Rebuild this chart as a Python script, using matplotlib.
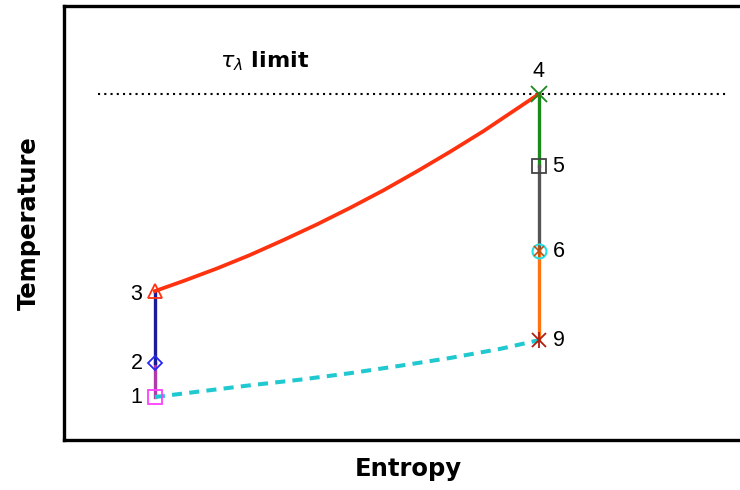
import matplotlib.pyplot as plt

# state points on the T-s diagram (arbitrary units)
s_low = 0.132
s_high = 0.690
T_state = {"1": 0.099, "2": 0.177, "3": 0.343, "4": 0.797,
           "5": 0.631, "6": 0.435, "9": 0.230}
T_limit = 0.797

# heating curve 3 -> 4
heat_s = [0.132, 0.173, 0.222, 0.270, 0.318, 0.368, 0.416,
          0.464, 0.513, 0.561, 0.609, 0.658, 0.690]
heat_T = [0.343, 0.366, 0.395, 0.426, 0.460, 0.497, 0.535,
          0.575, 0.619, 0.664, 0.711, 0.763, 0.797]

# heat rejection curve 1 -> 9
cool_s = [0.132, 0.198, 0.270, 0.343, 0.416, 0.488, 0.561, 0.634, 0.690]
cool_T = [0.099, 0.112, 0.126, 0.139, 0.154, 0.171, 0.189, 0.210, 0.230]

fig = plt.figure(figsize=(7.4, 4.9), dpi=100)
ax = fig.add_axes([0.0865, 0.102, 0.93, 0.886])
ax.set_xlim(0, 1)
ax.set_ylim(0, 1)

lw = 2.4
# limit line
ax.plot([0.049, 0.965], [T_limit, T_limit], color="black", ls=(0, (1, 2)), lw=1.5)
ax.text(0.226, 0.872, r"$\boldsymbol{\tau_{\lambda}}$ limit", fontsize=16,
        fontweight="bold", va="center", ha="left")

# vertical processes
ax.plot([s_low, s_low], [T_state["1"], T_state["2"]], color="#b03aa8", lw=lw)
ax.plot([s_low, s_low], [T_state["2"], T_state["3"]], color="#1c1c9a", lw=lw)
ax.plot([s_high, s_high], [T_state["4"], T_state["5"]], color="#1a8a1a", lw=lw)
ax.plot([s_high, s_high], [T_state["5"], T_state["6"]], color="#555555", lw=lw)
ax.plot([s_high, s_high], [T_state["6"], T_state["9"]], color="#ff7410", lw=lw)

# curves
ax.plot(heat_s, heat_T, color="#ff3210", lw=lw + 0.3, solid_joinstyle="round")
ax.plot(cool_s, cool_T, color="#20c8d0", lw=lw + 0.5, ls=(0, (2.5, 1.8)))

# markers
ms = 10
ax.plot(s_low, T_state["1"], marker="s", mfc="none", mec="#ff40ff", ms=ms, mew=1.3)
ax.plot(s_low, T_state["2"], marker="D", mfc="none", mec="#2a2aee", ms=7.5, mew=1.3)
ax.plot(s_low, T_state["3"], marker="^", mfc="none", mec="#ff3210", ms=ms, mew=1.3)
ax.plot(s_high, T_state["4"], marker="x", color="#1a8a1a", ms=11, mew=1.3)
ax.plot(s_high, T_state["5"], marker="s", mfc="none", mec="#444444", ms=ms, mew=1.3)
ax.plot(s_high, T_state["6"], marker="o", mfc="none", mec="#20e0e8", ms=ms, mew=1.5)
ax.plot(s_high, T_state["6"], marker="x", color="#c05010", ms=7, mew=1.2)
ax.plot(s_high, T_state["6"], marker="|", color="#c05010", ms=8, mew=1.2)
ax.plot(s_high, T_state["9"], marker="x", color="#b02010", ms=ms, mew=1.3)
ax.plot(s_high, T_state["9"], marker="|", color="#b02010", ms=11, mew=1.3)

# state labels
lab = dict(fontsize=15.5, family="Liberation Sans", va="center")
ax.text(s_low - 0.018, T_state["1"], "1", ha="right", **lab)
ax.text(s_low - 0.018, T_state["2"], "2", ha="right", **lab)
ax.text(s_low - 0.018, T_state["3"] - 0.008, "3", ha="right", **lab)
ax.text(s_high, T_state["4"] + 0.053, "4", ha="center", **lab)
ax.text(s_high + 0.02, T_state["5"], "5", ha="left", **lab)
ax.text(s_high + 0.02, T_state["6"], "6", ha="left", **lab)
ax.text(s_high + 0.02, T_state["9"], "9", ha="left", **lab)

ax.set_xticks([])
ax.set_yticks([])
for side in ["left", "bottom", "top"]:
    ax.spines[side].set_linewidth(2.4)
ax.spines["right"].set_visible(False)

ax.set_xlabel("Entropy", fontsize=17.5, fontweight="bold", labelpad=12)
ax.set_ylabel("Temperature", fontsize=17.5, fontweight="bold", labelpad=17)

fig.savefig("out.png", dpi=100)
